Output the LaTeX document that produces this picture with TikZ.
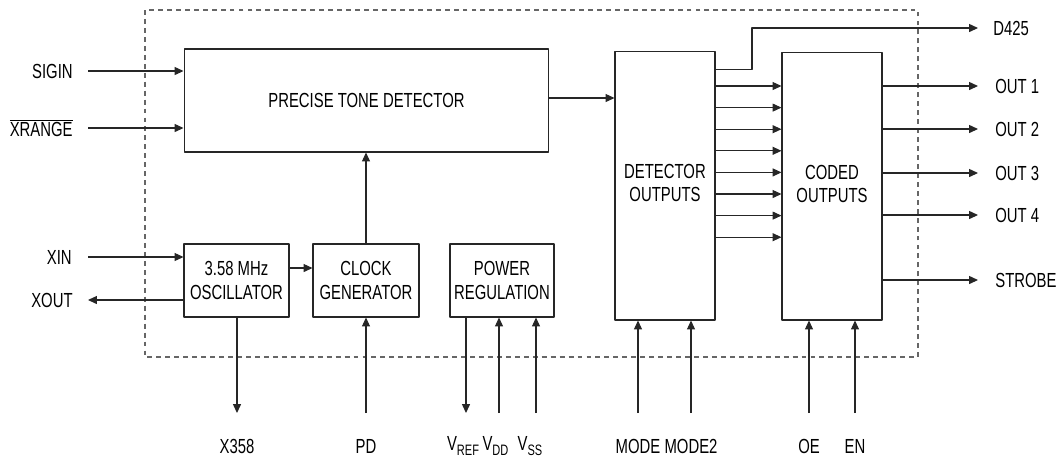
\documentclass[tikz,border=0pt]{standalone}
\usepackage{fontspec}
\setmainfont{Liberation Sans}[FakeStretch=0.73]
\usetikzlibrary{arrows.meta,positioning}
\newcommand\vsub[1]{V\raisebox{-0.45ex}{\fontsize{8.6}{9}\selectfont #1}}
\tikzset{
  blk/.style={draw=black!85,line width=0.6pt,inner sep=0pt,align=center},
  sig/.style={draw=black!85,line width=0.6pt},
  pinlbl/.style={inner sep=0pt},
  frame/.style={draw=black!60,line width=0.6pt,dash pattern=on 2.8pt off 2.3pt}
}
\begin{document}
\begin{tikzpicture}[x=0.02cm,y=-0.02cm,line join=round,>={Triangle[length=5pt,width=4.5pt]},font=\fontsize{11.6}{13.2}\selectfont]
	\useasboundingbox (0,0) rectangle (1059,458);
	\draw[frame] (145,10) rectangle (918,357);
	% blocks
	\node[blk,minimum width=7.3cm,minimum height=2.06cm] (ptd) at (366.5,100.5) {PRECISE TONE DETECTOR};
	\node[blk,minimum width=2.1cm,minimum height=1.46cm] (osc) at (236.5,280.5) {3.58 MHz\\OSCILLATOR};
	\node[blk,minimum width=2.12cm,minimum height=1.46cm] (clk) at (366,280.5) {CLOCK\\GENERATOR};
	\node[blk,minimum width=2.08cm,minimum height=1.46cm] (pwr) at (502,280.5) {POWER\\REGULATION};
	\node[blk,minimum width=2cm,minimum height=5.38cm] (det) at (665,185.5) {\raisebox{0.16cm}{\begin{tabular}{@{}c@{}}DETECTOR\\OUTPUTS\end{tabular}}};
	\node[blk,minimum width=2cm,minimum height=5.36cm] (cod) at (832,186) {\raisebox{0.16cm}{\begin{tabular}{@{}c@{}}CODED\\OUTPUTS\end{tabular}}};
	% pin ends
	\path
	(88,71) coordinate (sigin)
	(88,128) coordinate (xrange)
	(88,257) coordinate (xin)
	(88,300) coordinate (xout)
	(237,413) coordinate (x358)
	(366,413) coordinate (pd)
	(466,413) coordinate (vref)
	(499,413) coordinate (vdd)
	(536,413) coordinate (vss)
	(638,413) coordinate (mode)
	(691,413) coordinate (modeB)
	(809,413) coordinate (oe)
	(855,413) coordinate (en)
	(752,28) coordinate (bend)
	(978,28) coordinate (d425);
	% left pins
	\node[pinlbl,anchor=east] (lsigin) at (73,71) {SIGIN};
	\node[pinlbl,anchor=east] (lxrange) at (73,128) {$\overline{\mbox{XRANGE}}$};
	\node[pinlbl,anchor=east] (lxin) at (72,257) {XIN};
	\node[pinlbl,anchor=east] (lxout) at (73,300) {XOUT};
	\draw[sig,->] (sigin) -- (sigin -| ptd.west);
	\draw[sig,->] (xrange) -- (xrange -| ptd.west);
	\draw[sig,->] (xin) -- (xin -| osc.west);
	\draw[sig,->] (osc.west |- xout) -- (xout);
	% inner links
	\draw[sig,->] ([yshift=0.25cm]osc.east) -- ([yshift=0.25cm]clk.west);
	\draw[sig,->] (clk.north) -- (clk.north |- ptd.south);
	\draw[sig,->] ([yshift=0.05cm]ptd.east) -- ([yshift=0.05cm]ptd.east -| det.west);
	\draw[sig,->] ([yshift=-0.38cm]det.north east) -| (bend) -- (d425);
	\foreach \i in {0,...,7}{
		\path (0,{86+21.6*\i}) coordinate (row);
		\draw[sig,->] (det.east |- row) -- (cod.west |- row);
	}
	% bottom pins
	\draw[sig,->] (osc.south -| x358) -- (x358);
	\draw[sig,->] (pd) -- (pd |- clk.south);
	\draw[sig,->] (vref |- pwr.south) -- (vref);
	\draw[sig,->] (vdd) -- (vdd |- pwr.south);
	\draw[sig,->] (vss) -- (vss |- pwr.south);
	\draw[sig,->] (mode) -- (mode |- det.south);
	\draw[sig,->] (modeB) -- (modeB |- det.south);
	\draw[sig,->] (oe) -- (oe |- cod.south);
	\draw[sig,->] (en) -- (en |- cod.south);
	\node (lx358) at (237,446) {X358};
	\node (lpd) at (366,446) {PD};
	\node (lvref) at (463,446) {\vsub{REF}};
	\node (lvdd) at (495.5,446) {\vsub{DD}};
	\node (lvss) at (530,446) {\vsub{SS}};
	\node (lmode) at (638,446) {MODE};
	\node (lmodeB) at (691,446) {MODE2};
	\node (loe) at (809,446) {OE};
	\node (len) at (855,446) {EN};
	% right pins
	\node[pinlbl,anchor=west] (ld425) at (993,28) {D425};
	\foreach \name/\y/\txt in {out1/86/OUT 1,out2/129/OUT 2,out3/173/OUT 3,out4/215/OUT 4,strobe/280/STROBE}{
		\path (978,\y) coordinate (\name);
		\draw[sig,->] (cod.east |- \name) -- (\name);
		\node[pinlbl,anchor=west] (l\name) at (995,\y) {\txt};
	}
\end{tikzpicture}
\end{document}
